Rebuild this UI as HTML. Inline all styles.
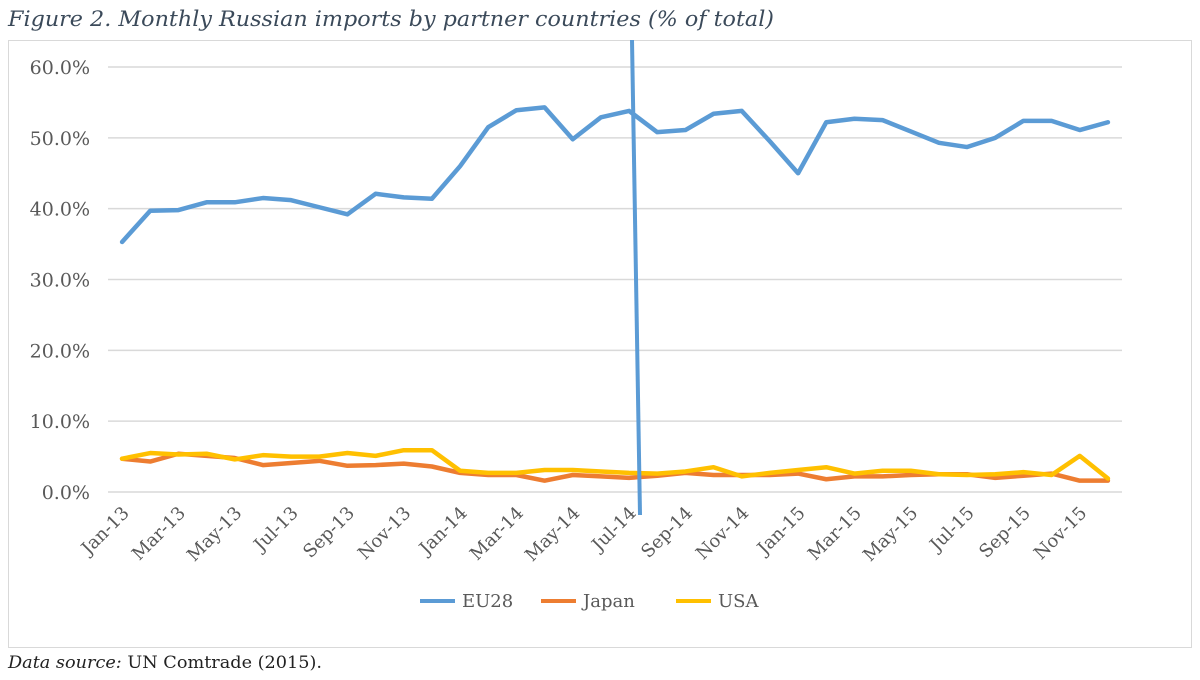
<!DOCTYPE html>
<html><head><meta charset="utf-8"><style>
body{margin:0;background:#fff;width:1200px;height:676px;overflow:hidden;font-family:"DejaVu Serif","Liberation Serif",serif}
</style></head><body>
<svg width="1200" height="676" font-family="DejaVu Serif, Liberation Serif, serif">
<text x="8" y="26" font-size="21" font-style="italic" fill="#3b4a5a" textLength="766" lengthAdjust="spacingAndGlyphs">Figure 2. Monthly Russian imports by partner countries (% of total)</text>
<rect x="8.5" y="40.5" width="1183" height="607" fill="#fff" stroke="#d9d9d9"/>
<g id="grid"></g><g id="series"></g><g id="xlabels"></g>
<line x1="632" y1="40" x2="640" y2="515" stroke="#5b9bd5" stroke-width="4"/>
<g font-size="18" fill="#595959">
<line x1="420" y1="601" x2="455" y2="601" stroke="#5b9bd5" stroke-width="4"/><text x="462" y="607" fill="#595959">EU28</text>
<line x1="541" y1="601" x2="576" y2="601" stroke="#ed7d31" stroke-width="4"/><text x="583" y="607" fill="#595959">Japan</text>
<line x1="676" y1="601" x2="711" y2="601" stroke="#ffc000" stroke-width="4"/><text x="718" y="607" fill="#595959">USA</text>
</g>
<text x="8" y="668" font-size="17" fill="#222" textLength="314" lengthAdjust="spacingAndGlyphs"><tspan font-style="italic">Data source:</tspan> UN Comtrade (2015).</text>
</svg>
<script>
const months=["Jan-13","Feb-13","Mar-13","Apr-13","May-13","Jun-13","Jul-13","Aug-13","Sep-13","Oct-13","Nov-13","Dec-13","Jan-14","Feb-14","Mar-14","Apr-14","May-14","Jun-14","Jul-14","Aug-14","Sep-14","Oct-14","Nov-14","Dec-14","Jan-15","Feb-15","Mar-15","Apr-15","May-15","Jun-15","Jul-15","Aug-15","Sep-15","Oct-15","Nov-15","Dec-15"];
const eu28=[35.3,39.7,39.8,40.9,40.9,41.5,41.2,40.2,39.2,42.1,41.6,41.4,46.0,51.5,53.9,54.3,49.8,52.9,53.8,50.8,51.1,53.4,53.8,49.5,45.0,52.2,52.7,52.5,50.9,49.3,48.7,50.0,52.4,52.4,51.1,52.2];
const japan=[4.7,4.3,5.4,5.1,4.8,3.8,4.1,4.4,3.7,3.8,4.0,3.6,2.7,2.4,2.4,1.6,2.4,2.2,2.0,2.3,2.7,2.4,2.4,2.4,2.6,1.8,2.2,2.2,2.4,2.5,2.5,2.0,2.3,2.6,1.6,1.6];
const usa=[4.7,5.5,5.3,5.4,4.6,5.2,5.0,5.0,5.5,5.1,5.9,5.9,3.0,2.7,2.7,3.1,3.1,2.9,2.7,2.6,2.9,3.5,2.2,2.7,3.1,3.5,2.6,3.0,3.0,2.5,2.4,2.5,2.8,2.4,5.1,1.9];
const yTicks=[0,10,20,30,40,50,60];
const NS="http://www.w3.org/2000/svg";
const x0=108,x1=1122,y0=492,y60=67;
const xs=i=>x0+(x1-x0)/months.length*(i+0.5);
const ys=v=>y0-(y0-y60)*v/60;
function mk(t,a,p){const e=document.createElementNS(NS,t);for(const k in a)e.setAttribute(k,a[k]);p.appendChild(e);return e;}
const grid=document.getElementById('grid');
yTicks.forEach(v=>{
  const l=mk('line',{x1:x0,x2:x1,y1:ys(v),y2:ys(v),stroke:'#d9d9d9','stroke-width':1.5},grid);
  
  
  const t=mk('text',{x:90,y:ys(v)+7,'text-anchor':'end','font-size':19,fill:'#595959'},grid);
  t.textContent=v.toFixed(1)+'%';
  
  
});
const xl=document.getElementById('xlabels');
months.forEach((m,i)=>{
  if(i%2)return;
  const x=xs(i)+8,y=514;
  const t=mk('text',{x:x,y:y,'text-anchor':'end','font-size':18,fill:'#595959',transform:`rotate(-45 ${x} ${y})`},xl);
  t.textContent=m;
  
  
});
const sg=document.getElementById('series');
[[japan,'#ed7d31','japan'],[usa,'#ffc000','usa'],[eu28,'#5b9bd5','eu28']].forEach(([d,c,n])=>{
  const p=mk('polyline',{points:d.map((v,i)=>xs(i)+','+ys(v)).join(' '),fill:'none',stroke:c,'stroke-width':4.5,'stroke-linejoin':'round','stroke-linecap':'round'},sg);
  
  
});
</script>
</body></html>
